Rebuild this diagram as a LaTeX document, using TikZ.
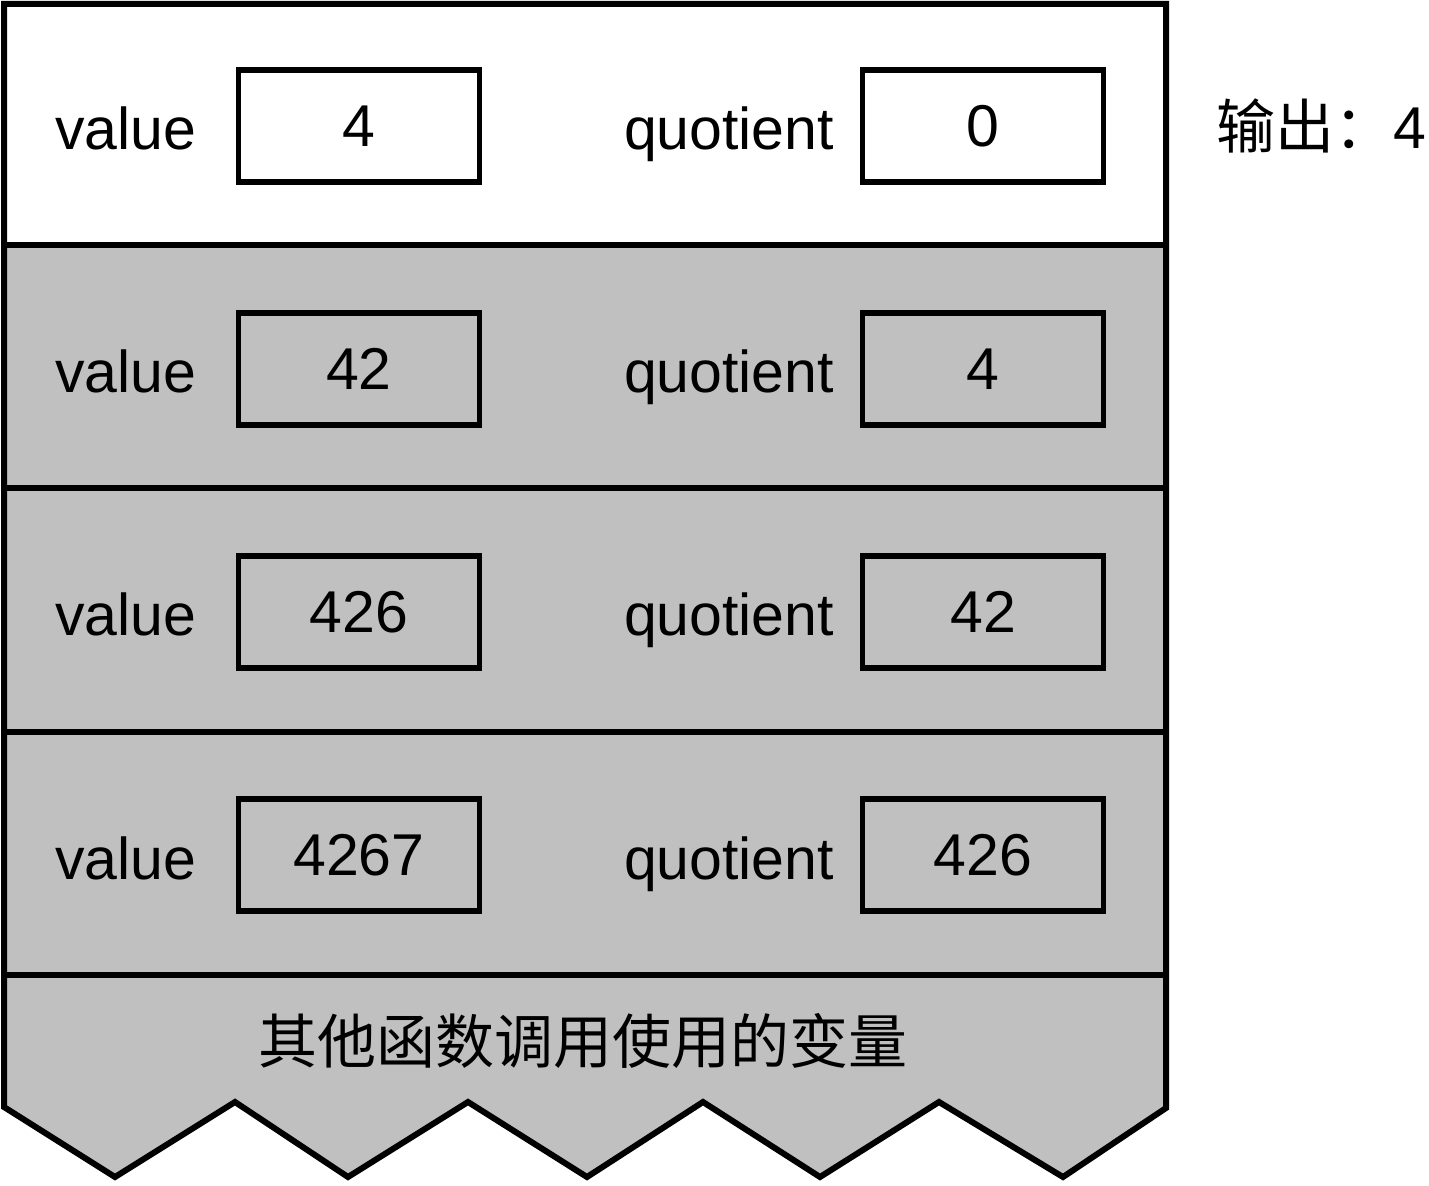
\documentclass[tikz,border=0pt]{standalone}
\usepackage{fontspec}
\setmainfont{Liberation Sans}
\newfontfamily\cjk{Noto Sans CJK SC}
\definecolor{stackgray}{RGB}{192,192,192}
\begin{document}
\begin{tikzpicture}[x=0.5pt, y=-0.5pt, line join=miter, font=\fontsize{29.5}{34}\selectfont,
    cell/.style={draw, line width=2.6pt, minimum width=120.5pt, minimum height=56pt, inner sep=0pt},
    lbl/.style={anchor=base, inner sep=0pt},
    edge/.style={line width=3pt}]
    \useasboundingbox (0,0) rectangle (1429,1186);
    \fill[stackgray] (4,245) -- (1166,245) -- (1166,1108) -- (1063,1177) -- (939,1102) -- (820,1177) -- (703,1102) -- (587,1177) -- (468,1102) -- (348,1177) -- (235,1102) -- (115,1177) -- (4,1107) -- cycle;
    \draw[edge] (4,4) -- (1166,4) -- (1166,1108) -- (1063,1177) -- (939,1102) -- (820,1177) -- (703,1102) -- (587,1177) -- (468,1102) -- (348,1177) -- (235,1102) -- (115,1177) -- (4,1107) -- cycle;
    \foreach \y in {245,488,732,975}\draw[edge] (4,\y)--(1166,\y);
    % one frame per call
    \foreach \v/\q [count=\i] in {4/0,42/4,426/42,4267/426}{
        \pgfmathsetmacro\yc{126+243*(\i-1)}
        \node[lbl] (vlbl\i) at (126,\yc+24) {value};
        \node[cell] (val\i) at (359,\yc) {\v};
        \node[lbl] (qlbl\i) at (729,\yc+24) {quotient};
        \node[cell] (quo\i) at (983,\yc) {\q};
    }
    \node[lbl] (other) at (583,1063) {\cjk 其他函数调用使用的变量};
    \node[anchor=base west, inner sep=0pt] (out) at (1216,149) {\cjk 输出：\rmfamily 4};
\end{tikzpicture}
\end{document}
